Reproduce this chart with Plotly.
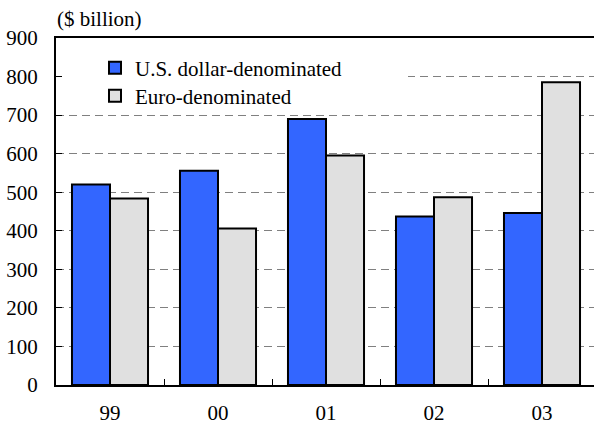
import plotly.graph_objects as go

categories = ["99", "00", "01", "02", "03"]
usd_values = [520, 556, 690, 437, 446]
eur_values = [484, 406, 595, 487, 785]
series_names = ["U.S. dollar-denominated", "Euro-denominated"]
y_ticks = [0, 100, 200, 300, 400, 500, 600, 700, 800, 900]

FONT = "Liberation Serif, Times New Roman, serif"
FS = 21
W, H = 594, 428
ML, MR, MT, MB = 56, 0, 38, 43
plot_w = W - ML - MR
plot_h = H - MT - MB
cat_px = 108
x_range = [-0.5, -0.5 + plot_w / cat_px]

fig = go.Figure()
fig.add_trace(go.Bar(
    x=categories, y=usd_values, name=series_names[0],
    marker=dict(color="#3366FF", line=dict(color="black", width=2)),
    legend="legend",
))
fig.add_trace(go.Bar(
    x=categories, y=eur_values, name=series_names[1],
    marker=dict(color="#E0E0E0", line=dict(color="black", width=2)),
    legend="legend2",
))

# white area behind the legend that hides the 800 gridline there
fig.add_shape(type="rect", xref="x", yref="y",
              x0=-0.5, x1=-0.5 + (408 - ML) / cat_px,
              y0=770, y1=830,
              fillcolor="white", line=dict(width=0), layer="between")


def py(pix):
    return (H - MB - pix) / plot_h


def px(pix):
    return (pix - ML) / plot_w


legend_common = dict(
    font=dict(family=FONT, size=FS, color="black"),
    bgcolor="rgba(0,0,0,0)", xanchor="left", yanchor="middle",
    itemclick=False, itemdoubleclick=False,
)

fig.update_layout(
    width=W, height=H,
    margin=dict(l=ML, r=MR, t=MT, b=MB, pad=0),
    paper_bgcolor="white", plot_bgcolor="white",
    barmode="group", bargap=0.296, bargroupgap=0,
    font=dict(family=FONT, size=FS, color="black"),
    showlegend=True,
    legend=dict(x=px(95), y=py(68), **legend_common),
    legend2=dict(x=px(95), y=py(96), **legend_common),
    xaxis=dict(
        type="category", range=x_range, tickson="boundaries",
        ticks="inside", ticklen=6, tickwidth=1, tickcolor="black",
        showline=True, linecolor="black", linewidth=2, mirror=True,
        showgrid=False, ticklabelstandoff=8,
        tickfont=dict(family=FONT, size=FS, color="black"),
    ),
    yaxis=dict(
        range=[0, 900], tickvals=y_ticks, ticktext=[str(v) for v in y_ticks],
        ticks="inside", ticklen=6, tickwidth=1, tickcolor="black",
        showline=True, linecolor="black", linewidth=2,
        showgrid=True, gridcolor="#808080", gridwidth=1, griddash="8px,5px",
        zeroline=False, ticklabelstandoff=12,
        tickfont=dict(family=FONT, size=FS, color="black"),
    ),
    annotations=[dict(
        text="($ billion)", xref="paper", yref="paper", x=0, y=1,
        xanchor="left", yanchor="bottom", xshift=-1, yshift=5, showarrow=False,
        font=dict(family=FONT, size=FS, color="black"),
    )],
)

fig.write_html("out.html")
